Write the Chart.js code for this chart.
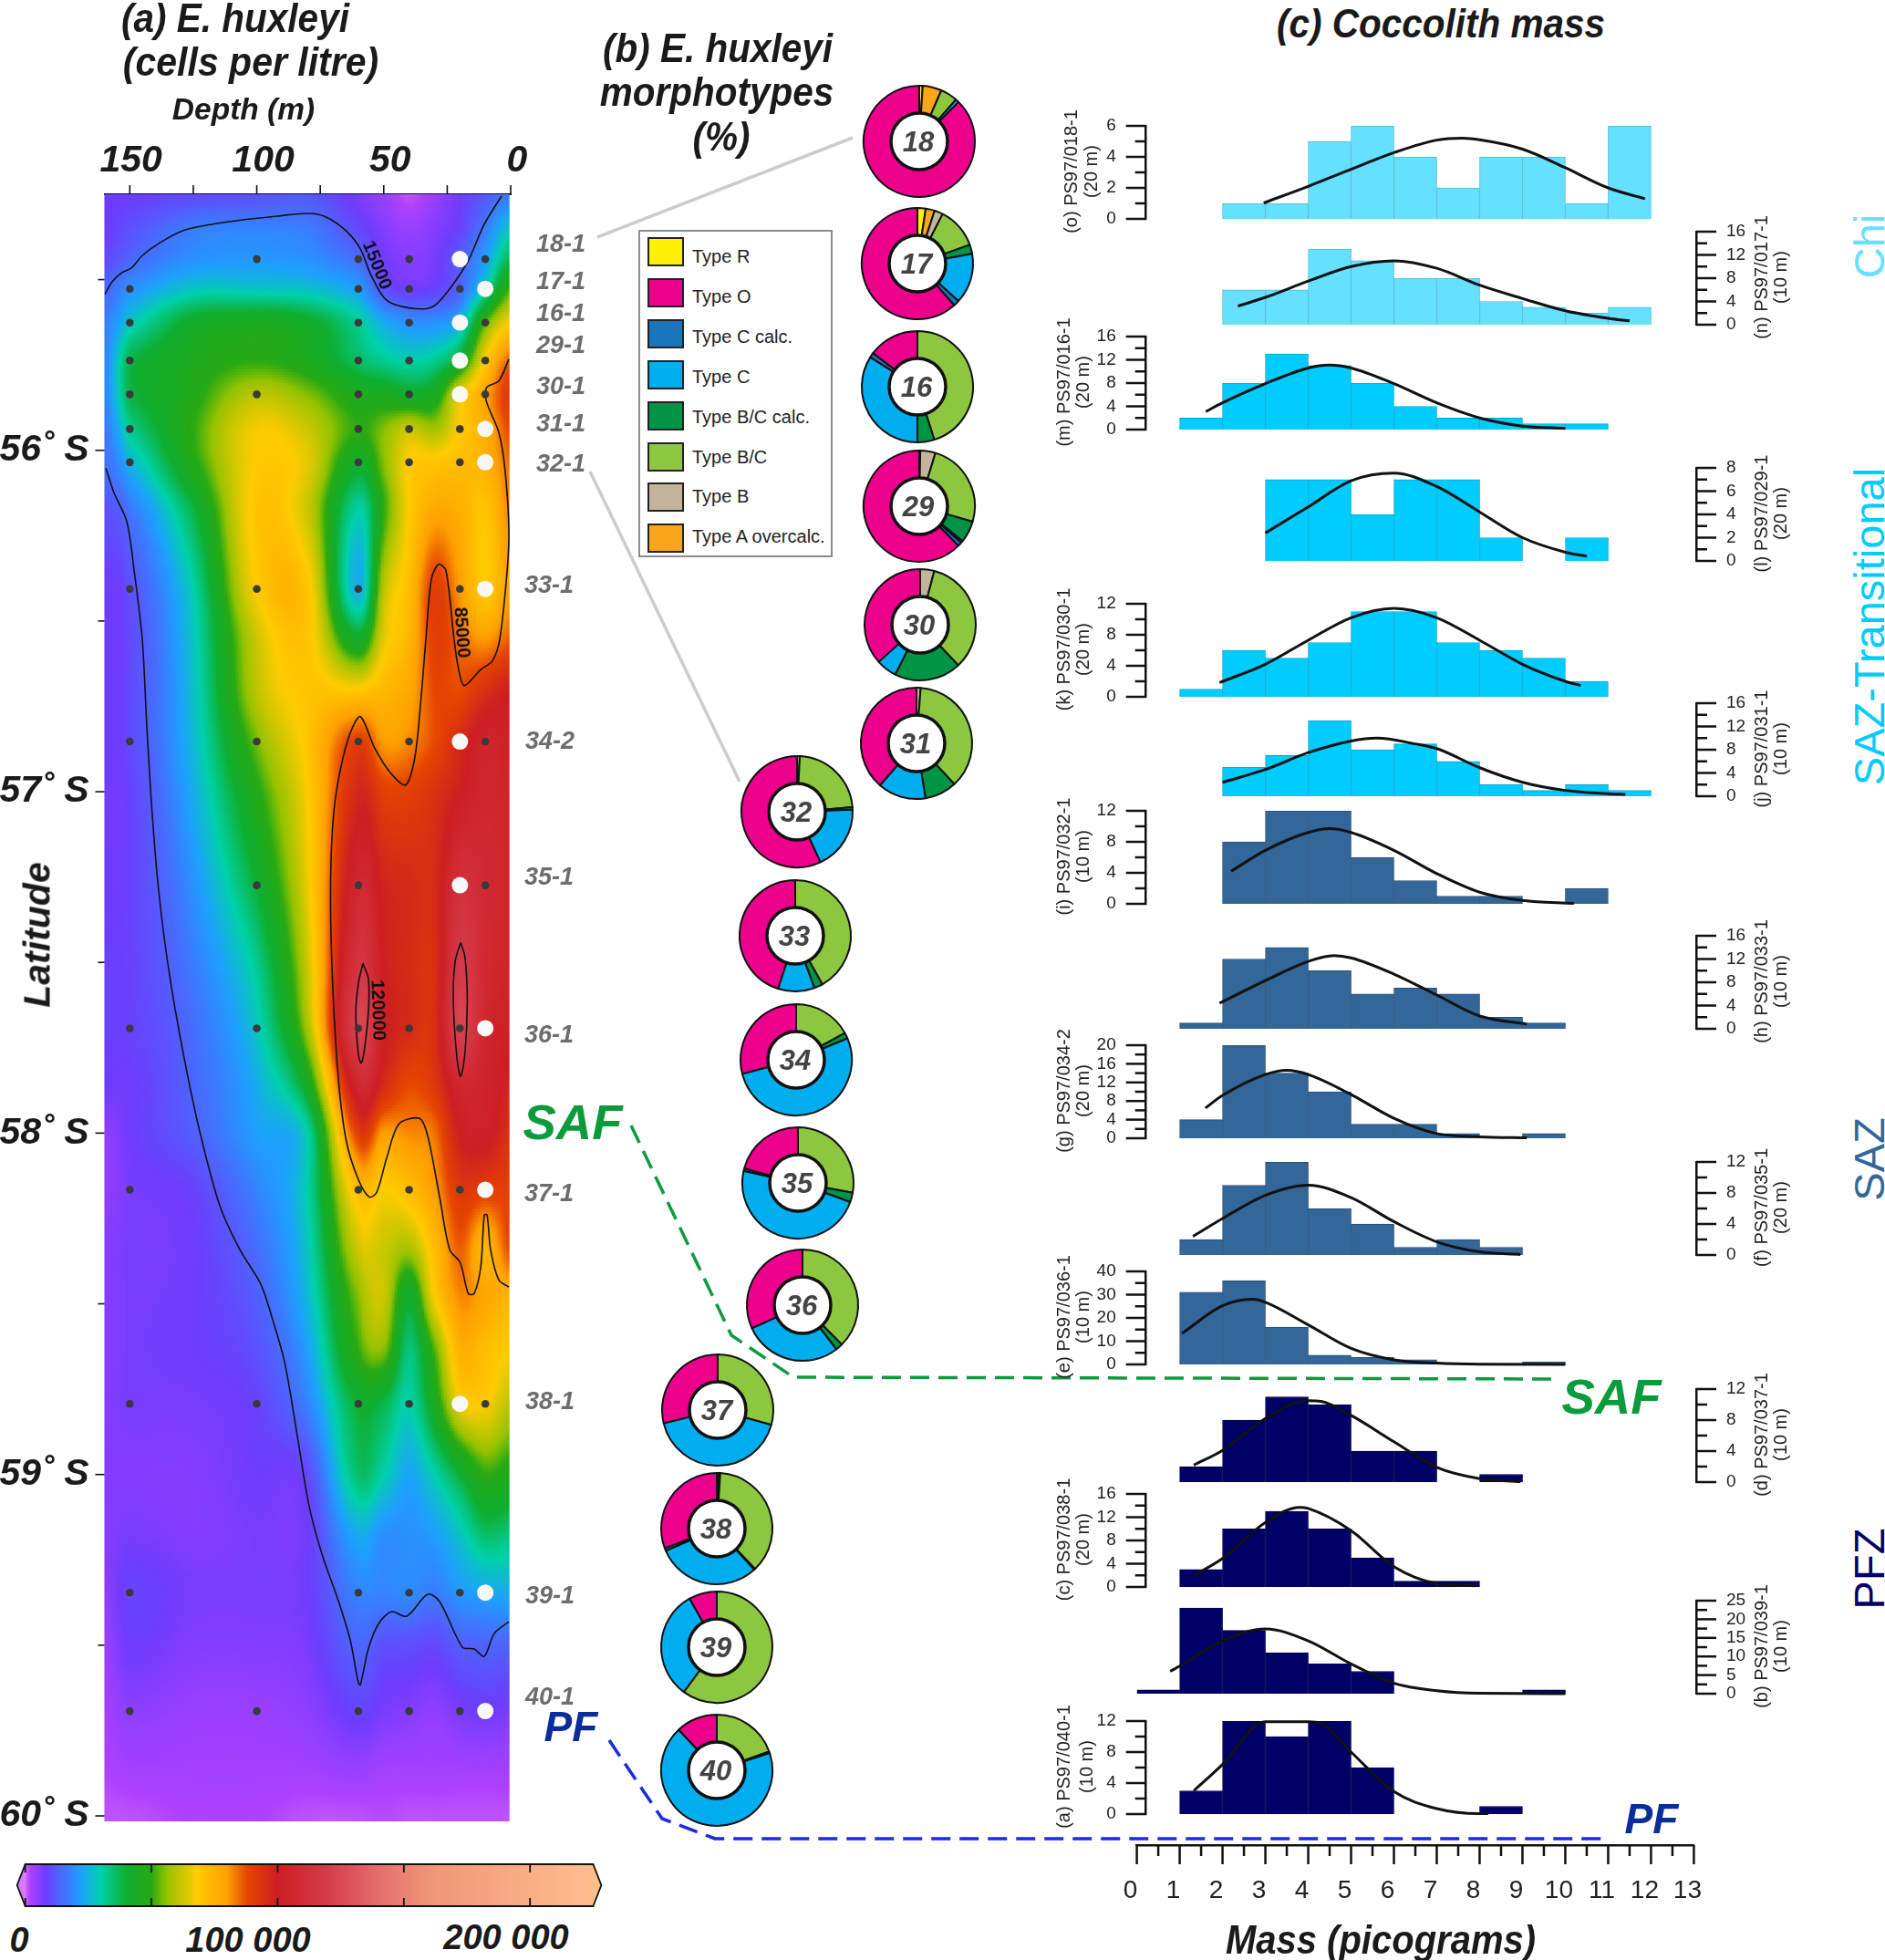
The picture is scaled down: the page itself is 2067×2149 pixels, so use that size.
<!DOCTYPE html>
<html>
<head>
<meta charset="utf-8">
<title>E. huxleyi section</title>
<script src="https://cdn.jsdelivr.net/npm/chart.js@4/dist/chart.umd.js"></script>
<style>
  html, body { margin: 0; background: #fff; }
  #page { position: relative; width: 2067px; height: 2149px; overflow: hidden; font-family: "Liberation Sans", Arial, sans-serif; }
  #page canvas { position: absolute; }
  #page svg { position: absolute; left: 0; top: 0; }
  .txt { position: absolute; white-space: nowrap; line-height: 1; }
  .legend { position: absolute; background: #fff; border: 2px solid #8c8c8c; box-sizing: border-box; }
  .swatch { position: absolute; border: 2px solid #222; box-sizing: border-box; }
</style>
</head>
<body>
<div id="page"></div>
<script>
// ── Panel (a): section grid, cells per litre (thousands) ──
const heatDepths = [160, 150, 125, 100, 80, 60, 50, 40, 30, 20, 10, 0];
const heatLats = [55.25, 55.35, 55.44, 55.527, 55.626, 55.737, 55.836, 55.94, 56.035, 56.18, 56.406, 56.55, 56.71,
  56.853, 57.0, 57.27, 57.51, 57.69, 57.86, 58.0, 58.166, 58.34, 58.475, 58.635, 58.79, 59.0, 59.17, 59.346, 59.49,
  59.693, 59.865, 60.016];
const heatCells = [
  [8, 8, 10, 11, 12, 7, 4, 1, 4, 8, 12, 17],
  [8, 11, 17, 18, 17, 10, 6, 4, 6, 9, 17, 28],
  [10, 14, 20, 21, 20, 15, 8, 6, 7, 13, 22, 38],
  [14, 20, 28, 28, 27, 22, 11, 8, 9, 14, 30, 52],
  [17, 28, 42, 45, 42, 32, 24, 20, 20, 25, 52, 68],
  [18, 38, 46, 50, 46, 36, 32, 30, 32, 42, 68, 86],
  [18, 38, 48, 60, 55, 46, 45, 42, 45, 65, 78, 92],
  [16, 32, 50, 67, 62, 50, 55, 62, 58, 68, 76, 88],
  [15, 25, 48, 68, 65, 42, 55, 68, 70, 72, 75, 85],
  [11, 16, 38, 70, 62, 30, 50, 68, 78, 76, 70, 83],
  [8, 11, 30, 68, 70, 24, 60, 72, 90, 80, 69, 80],
  [8, 10, 28, 62, 70, 42, 65, 74, 90, 85, 80, 86],
  [8, 10, 27, 60, 70, 70, 74, 78, 88, 88, 95, 100],
  [8, 10, 26, 54, 70, 90, 80, 82, 88, 96, 104, 102],
  [8, 9, 24, 48, 68, 97, 90, 90, 94, 100, 106, 104],
  [8, 9, 20, 40, 66, 106, 98, 96, 96, 112, 108, 106],
  [9, 9, 17, 32, 62, 114, 100, 96, 95, 118, 108, 104],
  [9, 9, 15, 28, 58, 122, 102, 96, 95, 122, 106, 102],
  [8, 8, 14, 24, 44, 106, 96, 88, 92, 106, 104, 98],
  [5, 8, 13, 22, 30, 90, 80, 82, 84, 100, 102, 94],
  [5, 7, 9, 18, 30, 72, 68, 72, 80, 92, 90, 90],
  [6, 7, 8, 15, 28, 62, 62, 58, 72, 86, 74, 88],
  [6, 7, 8, 13, 26, 55, 62, 42, 68, 82, 78, 75],
  [6, 7, 8, 11, 22, 50, 55, 34, 52, 75, 72, 68],
  [6, 7, 7, 9, 18, 40, 38, 30, 45, 66, 68, 60],
  [6, 6, 6, 8, 10, 35, 30, 23, 30, 40, 50, 47],
  [6, 7, 6, 7, 8, 24, 20, 20, 22, 28, 36, 34],
  [5, 9, 7, 7, 8, 18, 18, 19, 17, 21, 23, 24],
  [4, 8, 6, 6, 7, 14, 11, 11, 10, 13, 14, 14],
  [3, 5, 4, 4, 5, 9, 7, 6, 5, 7, 8, 7],
  [2, 3, 3, 3, 3, 4, 3, 3, 3, 3, 3, 3],
  [1, 1, 2, 2, 1, 1, 1.5, 1, 1, 1, 1, 1]
];
const depthTicks = [0, 25, 50, 75, 100, 125, 150];
const latTicks = [55.5, 56, 56.5, 57, 57.5, 58, 58.5, 59, 59.5, 60];

// Contours as [depth m, latitude °S]
const contour15kTop = [[159.8, 55.543], [156.9, 55.506], [153, 55.479], [149.4, 55.466], [145, 55.429], [136.8, 55.386],
  [128.9, 55.356], [117.8, 55.338], [104.8, 55.324], [91.9, 55.314], [79.4, 55.306], [72.9, 55.316], [65, 55.356],
  [59.2, 55.41], [55.3, 55.482], [50.3, 55.549], [45.6, 55.573], [34.5, 55.586], [29.4, 55.573], [23, 55.517],
  [16.9, 55.447], [10.4, 55.338], [3.6, 55.255]];
const contour15kLow = [[159.4, 56.053], [156.2, 56.125], [151.2, 56.208], [148.3, 56.352], [145.1, 56.553], [143.3, 56.809],
  [141.2, 57.063], [138.6, 57.292], [134.6, 57.525], [128.9, 57.768], [122.4, 57.997], [114.5, 58.214], [106.6, 58.342],
  [98.4, 58.443], [93.4, 58.555], [88.9, 58.675], [84, 58.889], [79.4, 59.092], [74.3, 59.234], [68, 59.367], [63.2, 59.485],
  [60, 59.61], [59.2, 59.616], [56, 59.509], [52, 59.437], [47, 59.402], [40.9, 59.415], [32.7, 59.351], [28, 59.372],
  [19, 59.506], [14.4, 59.511], [10.4, 59.533], [6.5, 59.466], [0.7, 59.431]];
const contour85k = [[0.7, 55.733], [4.7, 55.797], [9.5, 55.816], [9.5, 55.858], [4.7, 55.947], [2.3, 56.053], [0.7, 56.232],
  [1.4, 56.352], [4.3, 56.553], [7.2, 56.617], [11.8, 56.642], [18.3, 56.689], [20.8, 56.63], [22.3, 56.553], [25.5, 56.352],
  [28.4, 56.334], [31.2, 56.376], [33.4, 56.553], [35.2, 56.718], [37.7, 56.897], [41.3, 56.98], [47, 56.948], [53.5, 56.873],
  [59.2, 56.78], [63.2, 56.828], [67.1, 56.936], [69.7, 57.063], [70.9, 57.255], [70.4, 57.511], [68, 57.829], [64.8, 58.021],
  [60, 58.136], [55.7, 58.187], [52.8, 58.174], [48.8, 58.072], [44, 57.973], [35.9, 57.957], [32.7, 58.008], [28, 58.187],
  [24, 58.342], [19.9, 58.379], [16.7, 58.47], [14.4, 58.47], [11.8, 58.393], [10.4, 58.24], [9.3, 58.24], [7.9, 58.342],
  [4.7, 58.43], [0.7, 58.451]];
const contour120kA = [[58.2, 57.503], [60, 57.562], [61, 57.65], [60, 57.768], [58.9, 57.795], [57.6, 57.754], [56, 57.64],
  [56, 57.549], [58.2, 57.503]];
const contour120kB = [[19.7, 57.442], [21.9, 57.498], [22.6, 57.613], [21.2, 57.778], [19.7, 57.834], [18, 57.766],
  [17.1, 57.613], [18, 57.485], [19.7, 57.442]];
const contourTexts = [['15000', 52.8, 55.458, 68], ['85000', 19.4, 56.534, 86], ['120000', 52.4, 57.64, 88]];

// Stations
const stationNames = ['18-1', '17-1', '16-1', '29-1', '30-1', '31-1', '32-1', '33-1', '34-2', '35-1', '36-1', '37-1', '38-1', '39-1', '40-1'];
const stationLats = [55.44, 55.527, 55.626, 55.737, 55.836, 55.9375, 56.035, 56.406, 56.853, 57.274, 57.693, 58.166, 58.793, 59.346, 59.693];
const sampleDepths = [[100, 60, 40, 10], [150, 60, 40, 20], [150, 60, 40, 10], [150, 60, 40, 10], [150, 100, 60, 40, 10],
  [150, 60, 40, 20], [150, 60, 40, 20], [150, 100, 60, 20], [150, 100, 60, 40, 10], [100, 60, 10], [150, 100, 60, 40, 20],
  [150, 60, 40, 20], [150, 100, 60, 40, 10], [150, 60, 40, 20], [150, 100, 60, 40, 20]];
const coccoDepths = [20, 10, 20, 20, 20, 10, 10, 10, 20, 20, 10, 10, 20, 10, 10];

// Colour scale (cells per litre) and its ticks
const scaleValues = [0, 2000, 8000, 15000, 22000, 30000, 40000, 50000, 56000, 68000, 80000, 88000, 100000, 120000, 140000, 160000, 200000, 225000];
const scaleColours = [[205, 105, 255], [175, 65, 255], [110, 60, 255], [70, 110, 255], [30, 160, 255], [0, 210, 170], [15, 175, 50], [40, 170, 20],
  [150, 195, 0], [255, 204, 0], [255, 160, 0], [230, 70, 0], [205, 30, 35], [215, 60, 75], [230, 110, 110], [240, 150, 120], [250, 175, 135], [255, 190, 140]];
const scaleTicks = [0, 50000, 100000, 150000, 200000];

// ── Panel (b): morphotype percentages, clockwise from 12 o'clock ──
const typeOrder = ['Type R', 'Type A overcalc.', 'Type B', 'Type B/C', 'Type B/C calc.', 'Type C', 'Type C calc.', 'Type O'];
const typeColours = ['#fff200', '#faa61a', '#c2b59b', '#8dc63f', '#009444', '#00aeef', '#1b75bc', '#ec008c'];
const legendOrder = ['Type R', 'Type O', 'Type C calc.', 'Type C', 'Type B/C calc.', 'Type B/C', 'Type B', 'Type A overcalc.'];
const pie18 = [1, 5.5, 0, 5, 0, 1, 0, 87.5];
const pie17 = [2.4, 2.6, 2.5, 12, 2.7, 14.6, 1.7, 61.5];
const pie16 = [0, 0, 0, 45.1, 4.9, 33.9, 1.4, 14.7];
const pie29 = [0, 0.3, 4.4, 24.8, 6.3, 0.6, 1.2, 62.4];
const pie30 = [0, 0, 4.1, 33.9, 19.4, 6, 0, 36.6];
const pie31 = [0, 0, 1.2, 36.9, 9.3, 14, 0, 38.6];
const pie32 = [0, 0, 0.8, 22.9, 0.7, 18.7, 0, 56.9];
const pie33 = [0, 0, 0, 41.9, 2.5, 10.6, 0, 45];
const pie34 = [0, 0, 0, 17, 1.7, 52.3, 0, 29];
const pie35 = [0, 0, 0, 27.8, 2.8, 47.9, 0.7, 20.8];
const pie36 = [0, 0, 0, 37.5, 2.1, 28.6, 0, 31.8];
const pie37 = [0, 0, 0, 29.3, 0, 41.9, 0, 28.8];
const pie38 = [0.3, 0.3, 0.4, 36.9, 0.3, 30.2, 0.8, 30.7];
const pie39 = [0, 0, 0, 60.1, 0, 31.8, 0, 8.1];
const pie40 = [0, 0, 0, 19.5, 0.5, 68, 0, 12];

// ── Panel (c): counts per 1 pg bin (0–1 … 12–13) and the fitted curve as [mass, count] ──
const binsO = [0, 0, 1, 1, 5, 6, 4, 2, 4, 4, 1, 6, 0];
const curveO = [[2.96, 1.03], [4, 2.1], [5, 3.2], [6, 4.27], [7, 5.08], [7.6, 5.2], [8, 5.1], [9, 4.5], [10, 3.3], [11, 2], [11.86, 1.3]];
const binsN = [0, 0, 6, 6, 13, 11, 8, 8, 4, 3, 2, 3, 0];
const curveN = [[2.36, 3.2], [3, 4.7], [4, 7.5], [5, 10], [6, 11], [7, 9.7], [8, 6.8], [9, 4.5], [10, 2.4], [11, 1.1], [11.5, 0.65]];
const binsM = [0, 2, 8, 13, 11, 8, 4, 2, 2, 1, 1, 0, 0];
const curveM = [[1.61, 3.1], [2, 4.6], [3, 7.9], [4, 10.6], [4.5, 11.1], [5, 10.6], [6, 7.9], [7, 4.6], [8, 2], [9, 0.6], [10, 0.2]];
const binsL = [0, 0, 0, 7, 7, 4, 7, 7, 2, 0, 2, 0, 0];
const curveL = [[3, 2.4], [4, 4.65], [5, 6.9], [6, 7.55], [7, 6.4], [8, 4.2], [9, 2], [10, 0.75], [10.5, 0.4]];
const binsK = [0, 1, 6, 5, 7, 11, 11, 7, 6, 5, 2, 0, 0];
const curveK = [[1.93, 1.84], [3, 4.2], [4, 7.3], [5, 10.2], [6, 11.4], [7, 10.2], [8, 7.3], [9, 4.2], [10, 2], [10.36, 1.46]];
const binsJ = [0, 0, 5, 7, 13, 8, 9, 6, 2, 1, 2, 1, 0];
const curveJ = [[2, 2.4], [3, 4.6], [4, 7.5], [5, 9.5], [5.6, 10], [6.5, 9], [7, 8.2], [8, 4.9], [9, 2.4], [10, 1], [11, 0.43], [11.4, 0.3]];
const binsI = [0, 0, 8, 12, 12, 6, 3, 1, 1, 0, 2, 0, 0];
const curveI = [[2.2, 4.2], [3, 6.9], [4, 9.2], [4.5, 9.7], [5, 9.2], [6, 6.9], [7, 3.9], [8, 1.5], [9, 0.43], [10.2, 0.05]];
const binsH = [0, 1, 12, 14, 10, 6, 7, 6, 2, 1, 0, 0, 0];
const curveH = [[1.93, 4.4], [3, 8.3], [4, 11.6], [4.6, 12.6], [5, 12.2], [6, 9.4], [7, 5.8], [8, 2.2], [9.1, 0.8]];
const binsG = [0, 4, 20, 14, 10, 3, 3, 1, 0, 1, 0, 0, 0];
const curveG = [[1.6, 6.5], [2, 9.2], [3, 13.7], [3.5, 14.6], [4, 13.7], [5, 9.4], [6, 4.3], [7, 1], [8, 0.3], [9.1, 0.1]];
const binsF = [0, 2, 9, 12, 6, 4, 1, 2, 1, 0, 0, 0, 0];
const curveF = [[1.31, 2.4], [2, 4.7], [3, 7.7], [4, 9], [5, 7.4], [6, 4.3], [7, 1.7], [8, 0.4], [8.95, 0.05]];
const binsE = [0, 31, 36, 16, 4, 3, 2, 0, 0, 1, 0, 0, 0];
const curveE = [[1.05, 13.3], [2, 25.2], [2.7, 28], [3, 26.7], [4, 17], [5, 6.9], [6, 2], [7, 0.55], [8, 0.1], [10, 0]];
const binsD = [0, 2, 8, 11, 10, 4, 4, 0, 1, 0, 0, 0, 0];
const curveD = [[1.33, 2.2], [2, 4.1], [3, 8.2], [4, 10.5], [4.3, 10.4], [5, 8.6], [6, 5.2], [7, 1.9], [8, 0.45], [8.95, 0.05]];
const binsC = [0, 3, 10, 13, 10, 5, 1, 1, 0, 0, 0, 0, 0];
const curveC = [[1.31, 1.9], [2, 4.9], [3, 11.1], [3.8, 13.7], [4, 13.5], [5, 9.7], [6, 3.5], [7, 0.6], [7.9, 0.2]];
const binsB = [1, 23, 17, 11, 8, 6, 0, 0, 0, 1, 0, 0, 0];
const curveB = [[0.78, 6], [1, 7.4], [2, 14.2], [3, 17.4], [4, 14.2], [5, 8], [6, 2.8], [7, 0.8], [8, 0.1], [10, 0]];
const binsA = [0, 3, 12, 10, 12, 6, 0, 0, 1, 0, 0, 0, 0];
const curveA = [[1.33, 3], [2, 6.4], [3, 11.9], [4, 11.9], [4.3, 11.7], [5, 8], [6, 2.9], [7, 0.7], [8, 0.05], [8.2, 0.05]];

const massTicks = [0, 13];

// ── Layout ──
const page = document.getElementById('page');
const INK = '#1a1a1a';
const NARROW = '"Liberation Sans Narrow", "Liberation Sans", sans-serif';
Chart.defaults.animation = false;
Chart.defaults.responsive = false;
Chart.defaults.font.family = '"Liberation Sans", Arial, sans-serif';
Chart.defaults.plugins.legend.display = false;
Chart.defaults.plugins.tooltip.enabled = false;

function makeCanvas(x, y, w, h) {
  const c = document.createElement('canvas');
  c.width = w; c.height = h;
  c.style.left = x + 'px'; c.style.top = y + 'px';
  page.appendChild(c);
  return c;
}

function addText(str, cx, cy, size, o = {}) {
  const d = document.createElement('div');
  d.className = 'txt';
  d.textContent = str;
  d.style.left = cx + 'px';
  d.style.top = cy + 'px';
  d.style.fontSize = size + 'px';
  d.style.color = o.color || INK;
  if (o.bold !== false) { d.style.fontWeight = 'bold'; d.style.fontStyle = 'italic'; }
  d.style.transform = `translate(-50%,-50%) rotate(${o.rot || 0}deg) scaleY(${o.sy || 1})`;
  page.appendChild(d);
}

// Two tick lengths per axis, which Chart.js itself can't do
const tickMarks = {
  id: 'tickMarks',
  afterDraw(chart, args, o) {
    if (!o.axes) return;
    const c = chart.ctx, a = chart.chartArea;
    o.axes.forEach(ax => {
      const s = chart.scales[ax.id];
      c.save();
      c.strokeStyle = '#111';
      c.lineWidth = ax.width;
      s.ticks.forEach(t => {
        const len = t.value % ax.major === 0 ? ax.long : ax.short;
        const p = s.getPixelForValue(t.value);
        c.beginPath();
        if (s.isHorizontal()) {
          const y0 = s.position === 'top' ? a.top : a.bottom;
          c.moveTo(p, y0);
          c.lineTo(p, s.position === 'top' ? y0 - len : y0 + len);
        } else {
          const x0 = s.position === 'left' ? a.left : a.right;
          c.moveTo(x0, p);
          c.lineTo(s.position === 'left' ? x0 - len : x0 + len, p);
        }
        c.stroke();
      });
      c.restore();
    });
  }
};
Chart.register(tickMarks);

// the half-label overhang of the first/last tick would shrink the plot, positions here are fixed
function fixY(width) {
  return s => { s.width = width; s.paddingTop = 0; s.paddingBottom = 0; };
}
function fixX(height) {
  return s => { s.height = height; s.paddingLeft = 0; s.paddingRight = 0; };
}

function colourFor(v) {
  if (v <= scaleValues[0]) return scaleColours[0];
  for (let i = 1; i < scaleValues.length; i++) {
    if (v <= scaleValues[i]) {
      const f = (v - scaleValues[i - 1]) / (scaleValues[i] - scaleValues[i - 1]);
      const a = scaleColours[i - 1], b = scaleColours[i];
      return [a[0] + (b[0] - a[0]) * f, a[1] + (b[1] - a[1]) * f, a[2] + (b[2] - a[2]) * f];
    }
  }
  return scaleColours[scaleColours.length - 1];
}

const catmull = (p0, p1, p2, p3, t) =>
  0.5 * (2 * p1 + (p2 - p0) * t + (2 * p0 - 5 * p1 + 4 * p2 - p3) * t * t + (3 * p1 - p0 - 3 * p2 + p3) * t * t * t);

// position of v in a monotonic axis → [cell index, fraction]
function locate(axis, v) {
  const up = axis[1] > axis[0];
  for (let i = 0; i < axis.length - 1; i++) {
    const inside = up ? v <= axis[i + 1] : v >= axis[i + 1];
    if (inside) return [i, Math.max(0, (v - axis[i]) / (axis[i + 1] - axis[i]))];
  }
  return [axis.length - 2, 1];
}

function cellAt(depth, lat) {
  const [i, u] = locate(heatDepths, depth);
  const [j, v] = locate(heatLats, lat);
  const col = [];
  for (let r = -1; r <= 2; r++) {
    const row = heatCells[Math.min(heatLats.length - 1, Math.max(0, j + r))];
    const at = k => row[Math.min(heatDepths.length - 1, Math.max(0, k))];
    col.push(catmull(at(i - 1), at(i), at(i + 1), at(i + 2), u));
  }
  return Math.max(0, catmull(col[0], col[1], col[2], col[3], v)) * 1000;
}

const heatmap = {
  id: 'heatmap',
  beforeDatasetsDraw(chart) {
    const xs = chart.scales.x, ys = chart.scales.y, a = chart.chartArea, c = chart.ctx;
    const right = xs.getPixelForValue(0.5), STEP = 3;
    for (let py = a.top; py < a.bottom; py += STEP) {
      for (let px = a.left; px < right; px += STEP) {
        const v = cellAt(xs.getValueForPixel(px + STEP / 2), ys.getValueForPixel(py + STEP / 2));
        const rgb = colourFor(v);
        c.fillStyle = `rgb(${rgb[0] | 0},${rgb[1] | 0},${rgb[2] | 0})`;
        c.fillRect(px, py, Math.min(STEP + 0.5, right - px), Math.min(STEP + 0.5, a.bottom - py));
      }
    }
  },
  afterDatasetsDraw(chart) {
    const xs = chart.scales.x, ys = chart.scales.y, c = chart.ctx;
    c.save();
    c.fillStyle = '#111';
    c.font = 'bold 20px ' + NARROW;
    c.textAlign = 'center';
    c.textBaseline = 'middle';
    contourTexts.forEach(([t, d, l, rot]) => {
      c.save();
      c.translate(xs.getPixelForValue(d), ys.getPixelForValue(l));
      c.rotate(rot * Math.PI / 180);
      c.fillText(t, 0, 0);
      c.restore();
    });
    c.restore();
  }
};

// ── (a) section ──
const contourLine = pts => ({
  type: 'scatter', showLine: true, data: pts.map(p => ({ x: p[0], y: p[1] })),
  borderColor: '#111', borderWidth: 1.6, pointRadius: 0, tension: 0.3, order: 2
});
const darkPoints = [], whitePoints = [];
stationLats.forEach((lat, i) => {
  sampleDepths[i].forEach(d => darkPoints.push({ x: d, y: lat }));
  whitePoints.push({ x: coccoDepths[i], y: lat });
});

new Chart(makeCanvas(0, 0, 700, 2010), {
  type: 'scatter',
  plugins: [heatmap],
  data: {
    datasets: [
      { data: whitePoints, backgroundColor: '#f8f8f8', pointRadius: 9, borderWidth: 0, order: 1 },
      { data: darkPoints, backgroundColor: '#3a3a3a', pointRadius: 4.3, borderWidth: 0, order: 1 },
      contourLine(contour15kTop), contourLine(contour15kLow), contourLine(contour85k),
      contourLine(contour120kA), contourLine(contour120kB)
    ]
  },
  options: {
    layout: { padding: { left: 0, right: 140, top: 0, bottom: 13 } },
    plugins: {
      tickMarks: {
        axes: [
          { id: 'x', major: 25, long: 10, short: 10, width: 1.6 },
          { id: 'y', major: 1, long: 10, short: 7, width: 1.6 }
        ]
      }
    },
    scales: {
      x: {
        type: 'linear', position: 'top', reverse: true, min: 0, max: 160,
        afterFit: fixX(213),
        afterBuildTicks: s => { s.ticks = depthTicks.map(value => ({ value })); },
        grid: { display: false, drawTicks: false },
        border: { color: '#111', width: 2 },
        ticks: {
          autoSkip: false, maxRotation: 0, padding: 12, labelOffset: 7, color: INK,
          font: { size: 41, weight: 'bold', style: 'italic' },
          // the 150 sits a little further left than the others in the original
          callback: v => (v === 150 ? '150 ' : v % 50 === 0 ? String(v) : '')
        }
      },
      y: {
        type: 'linear', reverse: true, min: 55.25, max: 60.016,
        afterFit: fixY(114.5),
        afterBuildTicks: s => { s.ticks = latTicks.map(value => ({ value })); },
        grid: { display: false, drawTicks: false },
        border: { display: false },
        ticks: {
          autoSkip: false, padding: 17, color: INK,
          font: { size: 41, weight: 'bold', style: 'italic' },
          callback: v => (v % 1 === 0 ? v + '˚ S' : '')
        }
      }
    }
  }
});

// ── colour bar ──
const colourBar = {
  id: 'colourBar',
  beforeDatasetsDraw(chart) {
    const s = chart.scales.x, a = chart.chartArea, c = chart.ctx;
    const tip = 9, mid = (a.top + a.bottom) / 2;
    for (let px = Math.floor(a.left); px < a.right; px++) {
      const rgb = colourFor(s.getValueForPixel(px + 0.5));
      c.fillStyle = `rgb(${rgb[0] | 0},${rgb[1] | 0},${rgb[2] | 0})`;
      c.fillRect(px, a.top, 1.5, a.bottom - a.top);
    }
    c.fillStyle = '#dc78ff';
    c.beginPath(); c.moveTo(a.left + 1, a.top); c.lineTo(a.left - tip, mid); c.lineTo(a.left + 1, a.bottom); c.fill();
    c.fillStyle = '#ffbe8c';
    c.beginPath(); c.moveTo(a.right - 1, a.top); c.lineTo(a.right + tip, mid); c.lineTo(a.right - 1, a.bottom); c.fill();
    c.strokeStyle = '#111'; c.lineWidth = 1.8;
    c.beginPath();
    c.moveTo(a.left, a.top); c.lineTo(a.right, a.top); c.lineTo(a.right + tip, mid); c.lineTo(a.right, a.bottom);
    c.lineTo(a.left, a.bottom); c.lineTo(a.left - tip, mid); c.closePath();
    c.stroke();
    scaleTicks.forEach(v => {
      const p = s.getPixelForValue(v);
      c.beginPath();
      c.moveTo(p, a.top); c.lineTo(p, a.top + 9);
      c.moveTo(p, a.bottom - 9); c.lineTo(p, a.bottom);
      c.stroke();
    });
  }
};
new Chart(makeCanvas(0, 2030, 700, 70), {
  type: 'scatter',
  plugins: [colourBar],
  data: { datasets: [] },
  options: {
    layout: { padding: { left: 27.7, right: 49.6, top: 14, bottom: 10 } },
    scales: {
      x: { type: 'linear', min: 0, max: 225000, display: false },
      y: { display: false }
    }
  }
});

// ── (b) donuts ──
const donutText = {
  id: 'donutText',
  afterDatasetsDraw(chart, args, o) {
    const c = chart.ctx, cx = chart.width / 2, cy = chart.height / 2;
    c.save();
    c.fillStyle = '#fff'; c.strokeStyle = '#111'; c.lineWidth = 3.5;
    c.beginPath(); c.arc(cx, cy, 31, 0, Math.PI * 2); c.fill(); c.stroke();
    c.fillStyle = '#444';
    c.font = 'italic bold 31px "Liberation Sans", Arial';
    c.textAlign = 'center'; c.textBaseline = 'middle';
    c.fillText(o.name, cx - 1, cy + 2);
    c.restore();
  }
};
const donuts = [
  ['18', pie18, 1007.5, 155], ['17', pie17, 1006, 289], ['16', pie16, 1006, 423.5], ['29', pie29, 1007.5, 555],
  ['30', pie30, 1009.3, 685], ['31', pie31, 1005.3, 815.3], ['32', pie32, 874.3, 890.3], ['33', pie33, 871.7, 1026.3],
  ['34', pie34, 872.7, 1161.7], ['35', pie35, 874.7, 1296.7], ['36', pie36, 879.7, 1430.7], ['37', pie37, 787.3, 1546.3],
  ['38', pie38, 786, 1676], ['39', pie39, 786, 1806.3], ['40', pie40, 786, 1940.7]
];
donuts.forEach(([name, values, cx, cy]) => {
  new Chart(makeCanvas(Math.round(cx) - 66, Math.round(cy) - 66, 132, 132), {
    type: 'doughnut',
    plugins: [donutText],
    data: { labels: typeOrder, datasets: [{ data: values, backgroundColor: typeColours, borderColor: '#111', borderWidth: 2 }] },
    options: { radius: 61, cutout: 31, plugins: { donutText: { name } } }
  });
});

// legend
const legendBox = document.createElement('div');
legendBox.className = 'legend';
Object.assign(legendBox.style, { left: '700px', top: '252px', width: '213px', height: '359px' });
page.appendChild(legendBox);
legendOrder.forEach((name, i) => {
  const top = 260 + i * 44.9;
  const sw = document.createElement('div');
  sw.className = 'swatch';
  Object.assign(sw.style, { left: '710px', top: top + 'px', width: '40px', height: '32px', background: typeColours[typeOrder.indexOf(name)] });
  page.appendChild(sw);
  const d = document.createElement('div');
  d.className = 'txt';
  d.textContent = name;
  Object.assign(d.style, { left: '759px', top: (271 + i * 43.9) + 'px', fontSize: '20px', color: '#222' });
  page.appendChild(d);
});

// ── (c) histograms ──
const CHI = '#66e0ff', TRANS = '#00ccff', SAZ = '#336699', PFZ = '#000066';
const histograms = [
  ['(o) PS97/018-1', '(20 m)', binsO, curveO, 6, 2, 1, 'left', CHI, 240],
  ['(n) PS97/017-1', '(10 m)', binsN, curveN, 16, 4, 2, 'right', CHI, 356],
  ['(m) PS97/016-1', '(20 m)', binsM, curveM, 16, 4, 2, 'left', TRANS, 471],
  ['(l) PS97/029-1', '(20 m)', binsL, curveL, 8, 2, 1, 'right', TRANS, 615],
  ['(k) PS97/030-1', '(20 m)', binsK, curveK, 12, 4, 2, 'left', TRANS, 764],
  ['(j) PS97/031-1', '(10 m)', binsJ, curveJ, 16, 4, 2, 'right', TRANS, 873],
  ['(i) PS97/032-1', '(10 m)', binsI, curveI, 12, 4, 2, 'left', SAZ, 991],
  ['(h) PS97/033-1', '(10 m)', binsH, curveH, 16, 4, 2, 'right', SAZ, 1128],
  ['(g) PS97/034-2', '(20 m)', binsG, curveG, 20, 4, 2, 'left', SAZ, 1248],
  ['(f) PS97/035-1', '(20 m)', binsF, curveF, 12, 4, 2, 'right', SAZ, 1376],
  ['(e) PS97/036-1', '(10 m)', binsE, curveE, 40, 10, 5, 'left', SAZ, 1496],
  ['(d) PS97/037-1', '(10 m)', binsD, curveD, 12, 4, 2, 'right', PFZ, 1625],
  ['(c) PS97/038-1', '(20 m)', binsC, curveC, 16, 4, 2, 'left', PFZ, 1740],
  ['(b) PS97/039-1', '(10 m)', binsB, curveB, 25, 5, 2.5, 'right', PFZ, 1857],
  ['(a) PS97/040-1', '(10 m)', binsA, curveA, 12, 4, 2, 'left', PFZ, 1989]
];
const EDGE = { '#66e0ff': '#4fbcd8', '#00ccff': '#00a9d4', '#336699': '#264f78', '#000066': '#00004d' };

histograms.forEach(([cap, depth, bins, curve, yMax, major, minor, side, colour, zero]) => {
  const left = side === 'left';
  new Chart(makeCanvas(1150, zero - 116, 820, 130), {
    type: 'bar',
    data: {
      datasets: [
        {
          type: 'line', data: curve.map(p => ({ x: p[0], y: p[1] })), borderColor: '#111', borderWidth: 3,
          pointRadius: 0, cubicInterpolationMode: 'monotone', order: 0, clip: false
        },
        {
          type: 'bar', data: bins.map((v, i) => ({ x: i + 0.5, y: v || null })), backgroundColor: colour,
          borderColor: EDGE[colour], borderWidth: 1, barPercentage: 1, categoryPercentage: 1, order: 1
        }
      ]
    },
    options: {
      layout: { padding: { left: left ? 6.7 : 96.6, right: left ? 112.6 : 10, top: 14, bottom: 14 } },
      plugins: { tickMarks: { axes: [{ id: 'y', major, long: 22, short: 12, width: 2.5 }] } },
      scales: {
        x: { type: 'linear', offset: false, display: false, min: left ? 0.215 : 0, max: left ? 13 : 13.053 },
        y: {
          type: 'linear', position: side, min: 0, max: yMax,
          afterFit: fixY(100),
          grid: { display: false, drawTicks: false },
          border: { color: '#111', width: 2.5 },
          ticks: {
            stepSize: minor, autoSkip: false, padding: 33, color: '#222',
            font: { size: 19, family: NARROW },
            callback: v => (v % major === 0 ? String(v) : '')
          }
        }
      }
    }
  });
  const mid = zero - 52, x1 = left ? (cap.startsWith('(o)') ? 1174 : 1166) : 1931, x2 = left ? (cap.startsWith('(o)') ? 1196 : cap.startsWith('(a)') ? 1191 : 1187) : 1952;
  addText(cap, x1, mid, 20, { bold: false, rot: -90, color: '#222' });
  addText(depth, x2, mid, 20, { bold: false, rot: -90, color: '#222' });
});

// mass axis
new Chart(makeCanvas(1150, 2000, 820, 110), {
  type: 'scatter',
  data: { datasets: [] },
  options: {
    layout: { padding: { left: 96.6, right: 112.6, top: 0, bottom: 7 } },
    plugins: { tickMarks: { axes: [{ id: 'x', major: 1, long: 21, short: 12, width: 2.5 }] } },
    scales: {
      x: {
        type: 'linear', position: 'bottom', min: massTicks[0], max: massTicks[1],
        afterFit: fixX(80),
        grid: { display: false, drawTicks: false },
        border: { color: '#111', width: 2.5 },
        ticks: {
          stepSize: 0.5, autoSkip: false, maxRotation: 0, padding: 33, labelOffset: -7, color: '#222',
          font: { size: 28, family: NARROW },
          callback: v => (v % 1 === 0 ? String(v) : '')
        }
      },
      y: { display: false }
    }
  }
});

// ── Annotations ──
const NS = 'http://www.w3.org/2000/svg';
const svg = document.createElementNS(NS, 'svg');
svg.setAttribute('width', 2067); svg.setAttribute('height', 2149);
page.insertBefore(svg, page.firstChild);
function polyline(points, colour, width, dash) {
  const l = document.createElementNS(NS, 'polyline');
  l.setAttribute('points', points);
  l.setAttribute('fill', 'none');
  l.setAttribute('stroke', colour);
  l.setAttribute('stroke-width', width);
  if (dash) l.setAttribute('stroke-dasharray', dash);
  svg.appendChild(l);
}
polyline('655,260 935,151', '#cccccc', 3.5);
polyline('647,517 811,857', '#cccccc', 3.5);
polyline('692,1234 802,1464 870,1510 1706,1512', '#0a9c3c', 3.5, '21 10');
polyline('668,1908 726,1994 784,2016 1761,2016', '#1a2be0', 3.5, '21 10');

addText('(a) E. huxleyi', 258, 20, 40.5, { sy: 1.1 });
addText('(cells per litre)', 275, 68, 41, { sy: 1.1 });
addText('Depth (m)', 267, 120, 33.5);
addText('(b) E. huxleyi', 787, 53, 40.5, { sy: 1.1 });
addText('morphotypes', 786, 101, 40.5, { sy: 1.1 });
addText('(%)', 791, 150, 40.5, { sy: 1.1 });
addText('(c) Coccolith mass', 1580, 26, 40.5, { sy: 1.1 });
addText('Mass (picograms)', 1514, 2127, 40, { sy: 1.1 });
addText('Latitude', 41, 1025, 41, { rot: -90 });
addText('0', 21, 2127, 38);
addText('100 000', 272, 2127, 38);
addText('200 000', 555, 2124, 38);

const stationLabelX = [615, 615, 615, 615, 615, 615, 615, 602, 603, 602, 602, 602, 603, 603, 603];
const stationLabelY = [266.5, 308, 343, 378, 423, 464, 508, 640.6, 812, 961, 1134, 1307.6, 1535.7, 1749, 1860];
stationNames.forEach((n, i) => addText(n, stationLabelX[i], stationLabelY[i], 27, { color: '#6d6d6d' }));

addText('SAF', 628, 1231, 54.5, { color: '#0a9c3c' });
addText('SAF', 1767, 1532, 54.5, { color: '#0a9c3c' });
addText('PF', 626, 1893, 46, { color: '#0a2d9c' });
addText('PF', 1811, 1994, 46, { color: '#0a2d9c' });

addText('Chi', 2049, 270, 47, { bold: false, rot: -90, color: CHI });
addText('SAZ-Transitional', 2049, 687, 47, { bold: false, rot: -90, color: TRANS });
addText('SAZ', 2049, 1271, 47, { bold: false, rot: -90, color: SAZ });
addText('PFZ', 2049, 1720, 47, { bold: false, rot: -90, color: PFZ });
</script>
</body>
</html>
